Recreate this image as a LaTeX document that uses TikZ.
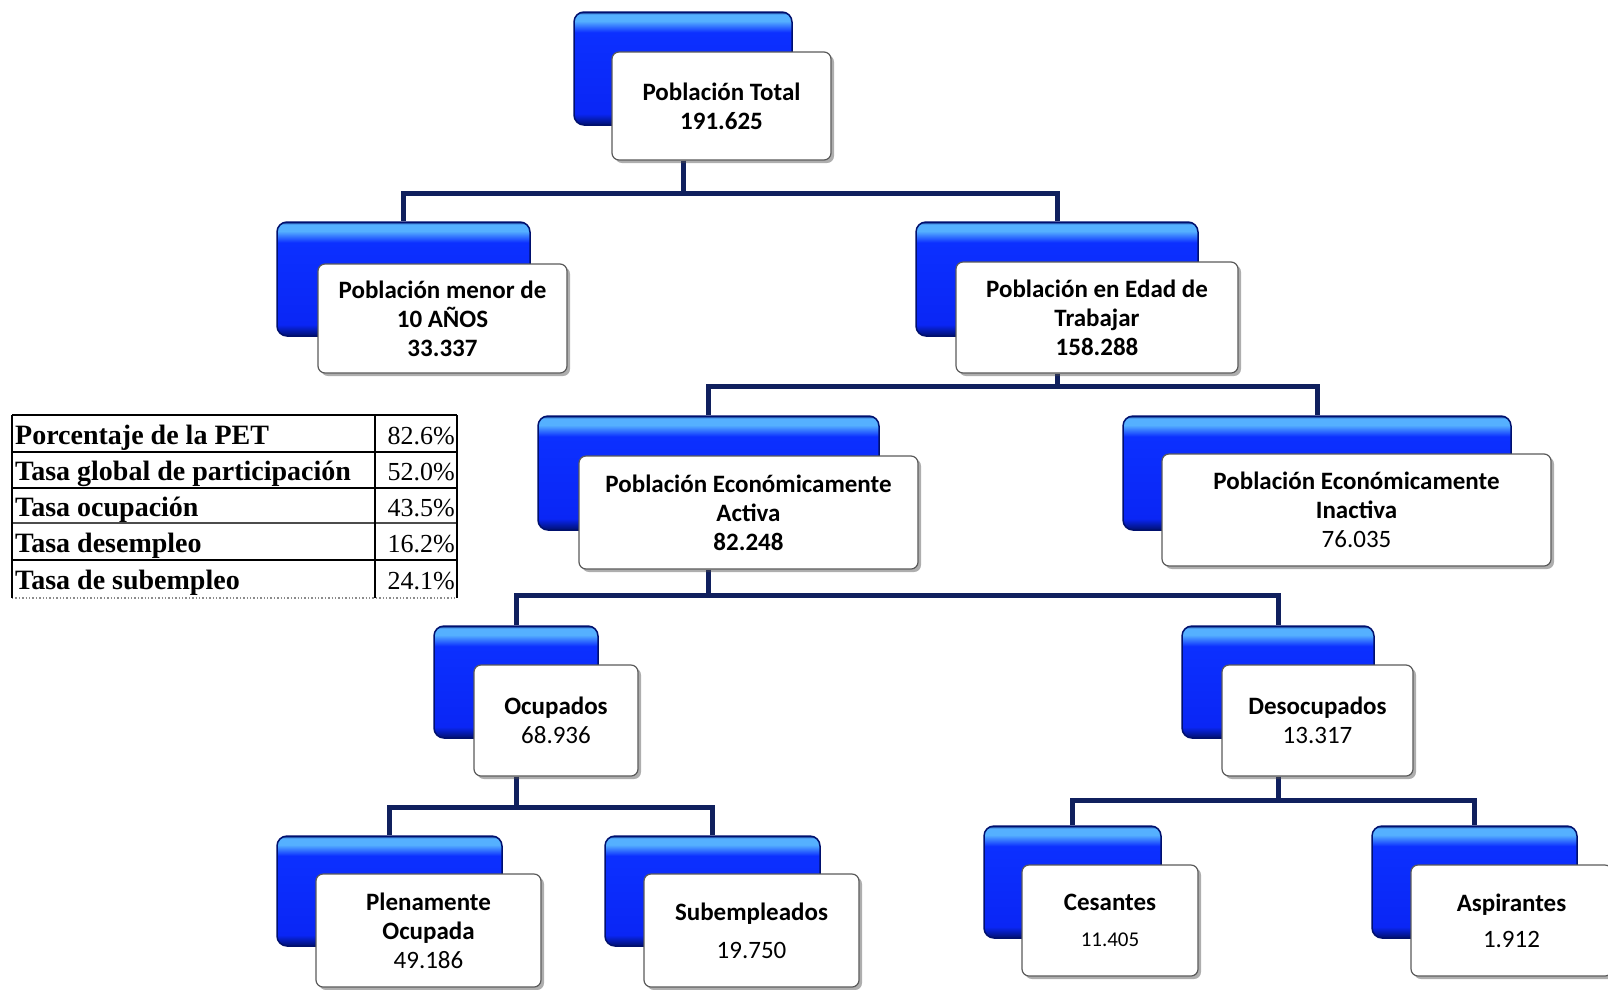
\documentclass[tikz,border=0pt]{standalone}
\usepackage{fontspec}
\setmainfont{Carlito}
\newfontfamily\tabfont{Liberation Serif}
\usetikzlibrary{shadows,backgrounds}
\definecolor{bdark}{HTML}{00106E}
\definecolor{bmid}{HTML}{0A26F5}
\definecolor{bmid2}{HTML}{0C30FF}
\definecolor{blight}{HTML}{55B0FF}
\definecolor{conncol}{HTML}{10205E}
\definecolor{wborder}{HTML}{5A5A5A}
\pgfdeclareverticalshading{bluebar}{100bp}{color(0bp)=(bdark); color(25bp)=(bdark); color(30bp)=(bmid); color(66bp)=(bmid2); color(71bp)=(blight); color(74bp)=(blight); color(75bp)=(bdark); color(100bp)=(bdark)}
\tikzset{
  bluebox/.style={shading=bluebar, draw=bdark, line width=1.5pt, rounded corners=10pt, inner sep=0pt},
  whitebox/.style={fill=white, draw=wborder, line width=1.2pt, rounded corners=7pt, inner sep=0pt, align=center,
     font=\fontsize{25}{29}\selectfont\bfseries,
     drop shadow={shadow xshift=3pt, shadow yshift=-3pt, opacity=0.45, fill=black!70}},
  conn/.style={draw=conncol, line width=5pt},
  tabline/.style={draw=black, line width=1.4pt},
  tabtext/.style={font=\tabfont\fontsize{28}{30}\selectfont\bfseries, anchor=base west, inner sep=0pt},
  tabnum/.style={font=\tabfont\fontsize{26}{30}\selectfont, anchor=base east, inner sep=0pt}
}
\begin{document}
\begin{tikzpicture}[x=1pt,y=-1pt]
\useasboundingbox (0,0) rectangle (1608,989);
\newcommand{\bx}[6]{% name, style, x1, y1, x2, y2
  \node[#2, minimum width={#5-#3}, minimum height={#6-#4}] (#1) at ({(#3+#5)/2},{(#4+#6)/2}) {};}
% ---- blue back boxes
\bx{tb}{bluebox}{574}{12}{792}{125}
\bx{mb}{bluebox}{277}{222}{530}{336}
\bx{pb}{bluebox}{916}{222}{1198}{336}
\bx{ab}{bluebox}{538}{416}{879}{530}
\bx{ib}{bluebox}{1123}{416}{1511}{530}
\bx{ob}{bluebox}{434}{626}{598}{738}
\bx{db}{bluebox}{1182}{626}{1374}{738}
\bx{lb}{bluebox}{277}{836}{502}{946}
\bx{sb}{bluebox}{605}{836}{820}{946}
\bx{cb}{bluebox}{984}{826}{1161}{938}
\bx{xb}{bluebox}{1372}{826}{1577}{938}
% ---- white front boxes
\node[whitebox, minimum width=219, minimum height=108] (tw) at (721.5,106) {Población Total\\191.625};
\node[whitebox, minimum width=249, minimum height=109] (mw) at (442.5,318.5) {Población menor de\\10 AÑOS\\33.337};
\node[whitebox, minimum width=282, minimum height=111] (pw) at (1097,317.5) {Población en Edad de\\Trabajar\\158.288};
\node[whitebox, minimum width=339, minimum height=113] (aw) at (748.5,512.5) {Población Económicamente\\Activa\\82.248};
\node[whitebox, minimum width=389, minimum height=112] (iw) at (1356.5,510) {Población Económicamente\\Inactiva\\{\mdseries 76.035}};
\node[whitebox, minimum width=164, minimum height=111] (ow) at (556,720.5) {Ocupados\\{\mdseries 68.936}};
\node[whitebox, minimum width=191, minimum height=111] (dw) at (1317.5,720.5) {Desocupados\\{\mdseries 13.317}};
\node[whitebox, minimum width=225, minimum height=113] (lw) at (428.5,930.5) {Plenamente\\Ocupada\\{\mdseries 49.186}};
\node[whitebox, minimum width=215, minimum height=113] (sw) at (751.5,930.5) {Subempleados\\[9pt]{\mdseries 19.750}};
\node[whitebox, minimum width=176, minimum height=111] (cw) at (1110,920.5) {Cesantes\\[7pt]{\mdseries\fontsize{21}{29}\selectfont 11.405}};
\node[whitebox, minimum width=201, minimum height=111] (xw) at (1511.5,920.5) {Aspirantes\\[7pt]{\mdseries 1.912}};
% ---- bus levels
\coordinate (bus1) at (0,193);
\coordinate (bus2) at (0,386);
\coordinate (bus3) at (0,595);
\coordinate (bus4) at (0,807);
\coordinate (bus5) at (0,800);
% ---- connectors
\begin{scope}[on background layer]
\draw[conn] (tb |- tw.south) |- (mb.north |- bus1) -- (mb.north);
\draw[conn] (tb |- tw.south) |- (pb.north |- bus1) -- (pb.north);
\draw[conn] (pb |- pw.south) |- (ab.north |- bus2) -- (ab.north);
\draw[conn] (pb |- pw.south) |- (ib.north |- bus2) -- (ib.north);
\draw[conn] (ab |- aw.south) |- (ob.north |- bus3) -- (ob.north);
\draw[conn] (ab |- aw.south) |- (db.north |- bus3) -- (db.north);
\draw[conn] (ob |- ow.south) |- (lb.north |- bus4) -- (lb.north);
\draw[conn] (ob |- ow.south) |- (sb.north |- bus4) -- (sb.north);
\draw[conn] (db |- dw.south) |- (cb.north |- bus5) -- (cb.north);
\draw[conn] (db |- dw.south) |- (xb.north |- bus5) -- (xb.north);
\end{scope}
% ---- table
\draw[tabline] (12,415) -- (457,415);
\draw[tabline] (12,452) -- (457,452);
\draw[tabline] (12,488) -- (457,488);
\draw[tabline, draw=black!70] (12,523) -- (457,523);
\draw[tabline] (12,560) -- (457,560);
\draw[tabline, draw=black!45, dotted] (12,598) -- (457,598);
\draw[tabline] (12,415) -- (12,598);
\draw[tabline] (375,415) -- (375,598);
\draw[tabline] (457,415) -- (457,598);
\node[tabtext] (r1) at (15,444) {Porcentaje de la PET};
\node[tabtext] (r2) at (15,480) {Tasa global de participación};
\node[tabtext] (r3) at (15,516) {Tasa ocupación};
\node[tabtext] (r4) at (15,552) {Tasa desempleo};
\node[tabtext] (r5) at (15,589) {Tasa de subempleo};
\node[tabnum] (v1) at (455,444) {82.6\%};
\node[tabnum] (v2) at (455,480) {52.0\%};
\node[tabnum] (v3) at (455,516) {43.5\%};
\node[tabnum] (v4) at (455,552) {16.2\%};
\node[tabnum] (v5) at (455,589) {24.1\%};
\end{tikzpicture}
\end{document}
